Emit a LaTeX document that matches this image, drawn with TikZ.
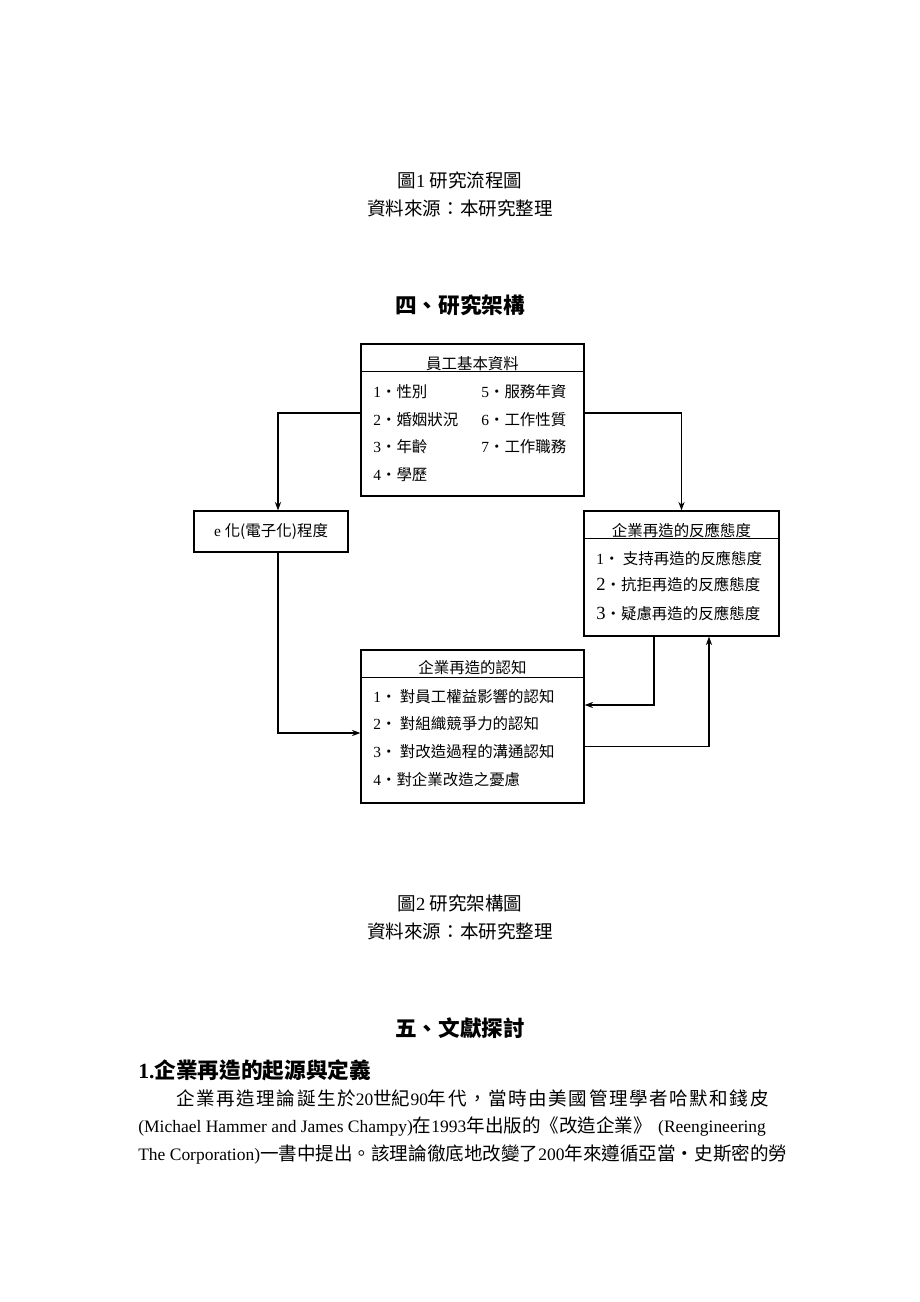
\documentclass[tikz,border=0pt]{standalone}
\usepackage{fontspec}
\setmainfont{Liberation Serif}
\newfontfamily\cjk{Noto Sans CJK TC}
\newcommand\zh[1]{{\fontsize{12}{14}\selectfont\cjk #1}}
\usetikzlibrary{arrows.meta,calc,fit}

\begin{document}
\begin{tikzpicture}[x=0.6467pt,y=-0.6467pt,
  box/.style={draw,line width=0.8pt,inner sep=0pt},
  boxtitle/.style={inner sep=0pt,font=\fontsize{10}{12}\selectfont},
  item/.style={anchor=west,inner sep=0pt,font=\fontsize{10}{12}\selectfont},
  figcap/.style={inner sep=0pt,font=\fontsize{12}{14}\selectfont},
  head/.style={inner sep=0pt,font=\fontsize{14}{16}\selectfont\bfseries},
  para/.style={anchor=west,inner sep=0pt,font=\fontsize{11.3}{14}\selectfont},
  conn/.style={line width=0.8pt,-{Stealth[length=5.5pt,width=4pt]}}]
\useasboundingbox (0,0) rectangle (920,1302);
%Captions of figure 1
\node[figcap] (cap1) at (460,180) {\cjk 圖{\rmfamily 1} 研究流程圖};
\node[figcap] (src1) at (460,208) {\cjk 資料來源：本研究整理};
\node[head] (sec4) at (460,305) {\cjk 四、研究架構};
%Boxes
\node[box,fit={(361,344) (584,496)}] (basic) {};
\node[box,fit={(194,511) (348,552)}] (ehua) {};
\node[box,fit={(584,511) (779,636)}] (react) {};
\node[box,fit={(361,650) (584,803)}] (cog) {};
\draw[line width=0.8pt] ($(basic.north west)+(0,28)$) -- ($(basic.north east)+(0,28)$);
\draw[line width=0.8pt] ($(react.north west)+(0,28)$) -- ($(react.north east)+(0,28)$);
\draw[line width=0.8pt] ($(cog.north west)+(0,28)$) -- ($(cog.north east)+(0,28)$);
%Basic data
\node[boxtitle] (basict) at (472.5,364) {\cjk 員工基本資料};
\node[item] (b1) at (373,392) {1\cjk・性別};
\node[item] (b2) at (373,420) {2\cjk・婚姻狀況};
\node[item] (b3) at (373,447) {3\cjk・年齡};
\node[item] (b4) at (373,475) {4\cjk・學歷};
\node[item] (b5) at (481,392) {5\cjk・服務年資};
\node[item] (b6) at (481,420) {6\cjk・工作性質};
\node[item] (b7) at (481,447) {7\cjk・工作職務};
%e-degree
\node[boxtitle] (ehuat) at (ehua.center) {e {\cjk 化(電子化)程度}};
%Reaction
\node[boxtitle] (reactt) at (681.5,530) {\cjk 企業再造的反應態度};
\node[item] (r1) at (596,558) {1\cjk・ 支持再造的反應態度};
\node[item] (r2) at (596,585) {{\fontsize{12}{12}\selectfont 2}\cjk・抗拒再造的反應態度};
\node[item] (r3) at (596,613) {{\fontsize{12}{12}\selectfont 3}\cjk・疑慮再造的反應態度};
%Cognition
\node[boxtitle] (cogt) at (472.5,668) {\cjk 企業再造的認知};
\node[item] (c1) at (373,697) {1\cjk・ 對員工權益影響的認知};
\node[item] (c2) at (373,724) {2\cjk・ 對組織競爭力的認知};
\node[item] (c3) at (373,752) {3\cjk・ 對改造過程的溝通認知};
\node[item] (c4) at (373,780) {4\cjk・對企業改造之憂慮};
%Connectors
\draw[conn] ($(basic.west)+(0,-7)$) -| ($(ehua.north)+(7,0)$);
\draw[conn] ($(basic.east)+(0,-7)$) -| (react.north);
\draw[conn] ($(ehua.south)+(7,0)$) |- ($(cog.west)+(0,6.5)$);
\draw[conn] ($(react.south)+(-27.5,0)$) |- ($(cog.east)+(0,-21.5)$);
\draw[conn] ($(cog.east)+(0,20)$) -| ($(react.south)+(27.5,0)$);
%Captions of figure 2
\node[figcap] (cap2) at (460,903) {\cjk 圖{\rmfamily 2} 研究架構圖};
\node[figcap] (src2) at (460,931) {\cjk 資料來源：本研究整理};
%Section 5
\node[head] (sec5) at (460,1028) {\cjk 五、文獻探討};
\node[head,anchor=west] (sub1) at (138,1070) {1.\cjk 企業再造的起源與定義};
\node[para] (p1) at (176,1098) {{\fontsize{12}{14}\selectfont\cjk\addfontfeature{LetterSpace=8.5}企業再造理論誕生於}20\zh{世紀}90{\fontsize{12}{14}\selectfont\cjk\addfontfeature{LetterSpace=8.5}年代，當時由美國管理學者哈默和錢皮}};
\node[para] (p2) at (138,1126) {(Michael Hammer and James Champy)\zh{在}1993\zh{年出版的《改造企業》}\hspace{4pt}(Reengineering};
\node[para] (p3) at (138,1154) {The Corporation)\zh{一書中提出。該理論徹底地改變了}200\zh{年來遵循亞當・史斯密的勞}};
\end{tikzpicture}
\end{document}
